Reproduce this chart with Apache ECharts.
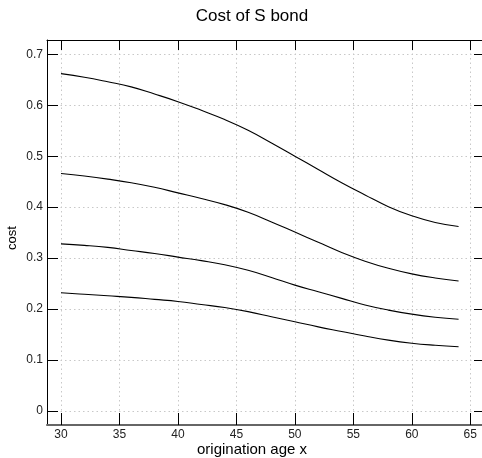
<!DOCTYPE html>
<html>
<head>
<meta charset="utf-8">
<script src="https://cdn.jsdelivr.net/npm/echarts@6/dist/echarts.min.js"></script>
<style>html,body{margin:0;padding:0;background:#fff;}#c{width:482px;height:458px;}</style>
</head>
<body>
<div id="c"></div>
<script>
var ages = [30,32,34,36,38,40,42,44,46,48,50,52,54,56,58,60,62,64];
var curve1 = [0.662,0.655,0.646,0.636,0.622,0.607,0.590,0.572,0.551,0.526,0.500,0.474,0.448,0.424,0.401,0.383,0.370,0.362];
var curve2 = [0.466,0.461,0.455,0.448,0.439,0.428,0.417,0.405,0.390,0.371,0.351,0.331,0.311,0.294,0.280,0.269,0.261,0.255];
var curve3 = [0.328,0.325,0.321,0.315,0.309,0.302,0.295,0.287,0.276,0.262,0.247,0.234,0.221,0.208,0.198,0.190,0.184,0.180];
var curve4 = [0.232,0.229,0.226,0.223,0.219,0.215,0.209,0.203,0.195,0.185,0.175,0.165,0.156,0.147,0.139,0.133,0.129,0.126];
var xTicks = [30,35,40,45,50,55,60,65];
var yTicks = [0,0.1,0.2,0.3,0.4,0.5,0.6,0.7];

function pairs(ys){ return ages.map(function(a,i){ return [a, ys[i]]; }); }
var font = 'Liberation Sans, Arial, sans-serif';
var chart = echarts.init(document.getElementById('c'), null, {renderer:'canvas'});
var lineStyle = {color:'#000', width:1.1};
function mk(ys){ return {type:'line', data:pairs(ys), smooth:0.45, showSymbol:false, symbol:'none', lineStyle:lineStyle, xAxisIndex:0, yAxisIndex:0, silent:true}; }
chart.setOption({
  animation:false,
  backgroundColor:'#fff',
  title:[
    {text:'Cost of S bond', left:247, top:3, textAlign:'center', textStyle:{fontFamily:font, fontSize:17, fontWeight:'normal', color:'#000'}},
    {text:'origination age x', left:247, top:437, textAlign:'center', textStyle:{fontFamily:font, fontSize:15, fontWeight:'normal', color:'#000'}}
  ],
  graphic:[
    {type:'text', x:12, y:238, rotation:Math.PI/2, silent:true,
     style:{text:'cost', fontFamily:font, fontSize:13, fill:'#000', align:'center', verticalAlign:'middle'}}
  ],
  grid:{left:47, top:40, width:438, height:385, containLabel:false, outerBoundsMode:'none'},
  xAxis:[
    {type:'value', position:'bottom', min:28.803, max:66.26,
     axisLine:{show:true, onZero:false, lineStyle:{color:'#666', width:2}},
     axisTick:{show:true, inside:true, length:12, customValues:xTicks, lineStyle:{color:'#000'}},
     axisLabel:{show:true, customValues:xTicks, margin:4, fontFamily:font, fontSize:12, color:'#222'},
     splitLine:{show:true, lineStyle:{type:[1.5,3], color:'#c8c8c8', width:1}}},
    {type:'value', position:'top', min:28.803, max:66.26,
     axisLine:{show:true, onZero:false, lineStyle:{color:'#000', width:1}},
     axisTick:{show:true, inside:true, length:10, customValues:xTicks, lineStyle:{color:'#000'}},
     axisLabel:{show:false}, splitLine:{show:false}}
  ],
  yAxis:[
    {type:'value', position:'left', min:-0.0275, max:0.728,
     axisLine:{show:true, onZero:false, lineStyle:{color:'#000', width:1}},
     axisTick:{show:true, inside:true, length:11, customValues:yTicks, lineStyle:{color:'#000'}},
     axisLabel:{show:true, customValues:yTicks, margin:4, fontFamily:font, fontSize:12, color:'#222'},
     splitLine:{show:true, lineStyle:{type:[1.5,3], color:'#c8c8c8', width:1}}},
    {type:'value', position:'right', min:-0.0275, max:0.728,
     axisLine:{show:true, onZero:false, lineStyle:{color:'#000', width:1}},
     axisTick:{show:true, inside:true, length:11, customValues:yTicks, lineStyle:{color:'#000'}},
     axisLabel:{show:false}, splitLine:{show:false}}
  ],
  series:[mk(curve1), mk(curve2), mk(curve3), mk(curve4)]
});
</script>
</body>
</html>
